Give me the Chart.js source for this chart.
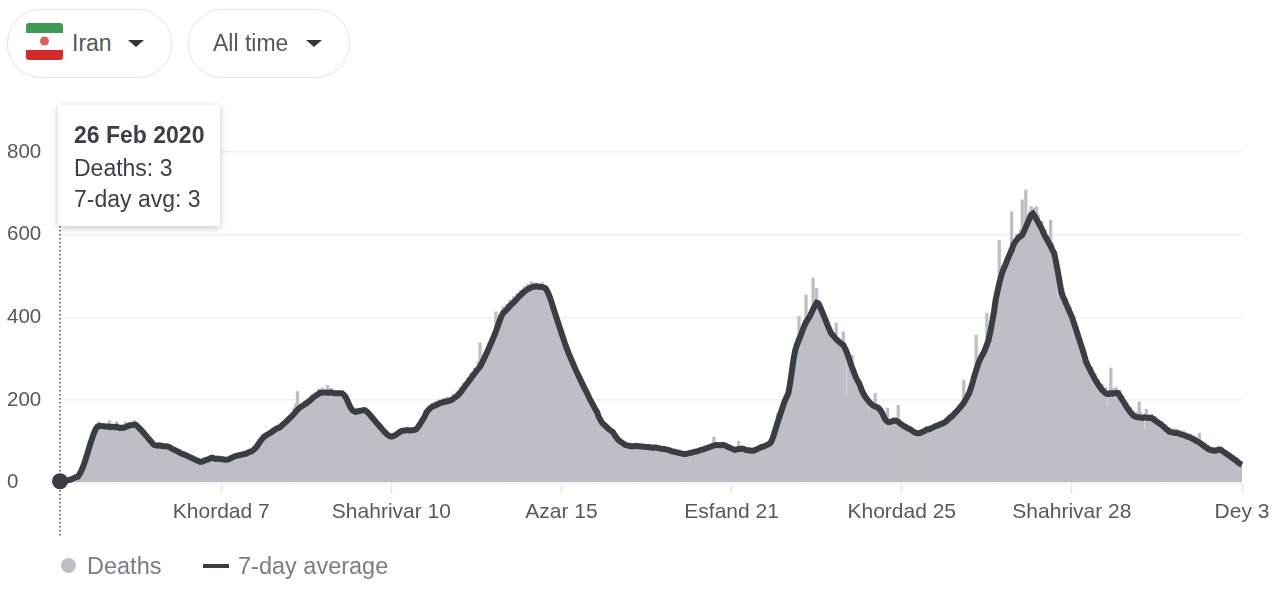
<!DOCTYPE html>
<html>
<head>
<meta charset="utf-8">
<title>Iran deaths</title>
<script src="https://cdn.jsdelivr.net/npm/chart.js@4"></script>
<style>
  html, body { margin: 0; padding: 0; background: #fff; overflow: hidden; }
  body { width: 1274px; height: 596px; position: relative; font-family: "Liberation Sans", Arial, sans-serif; }
  canvas { position: absolute; left: 0; top: 0; }
  .pill { position: absolute; top: 9px; height: 67px; border: 1.5px solid #e2e3e5; border-radius: 34px; box-sizing: content-box; background: #fff; }
  .pill span { position: absolute; top: 20px; font-size: 23px; line-height: 27px; color: #55585c; white-space: nowrap; }
  .caret { position: absolute; top: 30px; width: 0; height: 0; border-left: 8px solid transparent; border-right: 8px solid transparent; border-top: 7px solid #33363a; }
  #flag { position: absolute; left: 18px; top: 13px; }
  #tip { position: absolute; left: 58px; top: 105px; width: 162px; height: 121px; background: #fff; box-shadow: 0 2px 7px rgba(0,0,0,.22); color: #3c3f43; font-size: 23px; }
  #tip div { position: absolute; left: 16px; white-space: nowrap; line-height: 26px; }
  .leg { position: absolute; top: 552px; font-size: 23.5px; line-height: 28px; color: #7a7d81; white-space: nowrap; }
  #dot { position: absolute; left: 61px; top: 558px; width: 15px; height: 15px; border-radius: 50%; background: #bcbfc5; }
  #dash { position: absolute; left: 203px; top: 564px; width: 26px; height: 4px; background: #3a3d42; }
</style>
</head>
<body>
<canvas id="chart" width="1274" height="596"></canvas>

<div class="pill" style="left:7px;width:163px">
  <svg id="flag" width="37" height="37" viewBox="0 0 37 37">
    <rect width="37" height="37" rx="3" fill="#fff"/>
    <path d="M0 10V3a3 3 0 0 1 3-3h31a3 3 0 0 1 3 3v7z" fill="#3f9a55"/>
    <path d="M0 27v7a3 3 0 0 0 3 3h31a3 3 0 0 0 3-3v-7z" fill="#d32a2a"/>
    <circle cx="18.5" cy="18" r="4.5" fill="#d9605f"/>
  </svg>
  <span style="left:64px">Iran</span>
  <i class="caret" style="left:120px"></i>
</div>
<div class="pill" style="left:188px;width:160px">
  <span style="left:24px">All time</span>
  <i class="caret" style="left:117px"></i>
</div>

<div id="tip">
  <div style="top:17px;font-weight:bold">26 Feb 2020</div>
  <div style="top:50px">Deaths: 3</div>
  <div style="top:81px">7-day avg: 3</div>
</div>

<i id="dot"></i><div class="leg" style="left:87px">Deaths</div>
<i id="dash"></i><div class="leg" style="left:238px">7-day average</div>

<script>
// tick labels, days counted from 26 Feb 2020
const tickDays = [91, 187, 283, 379, 475, 571, 667];
const tickLabels = ["Khordad 7", "Shahrivar 10", "Azar 15", "Esfand 21", "Khordad 25", "Shahrivar 28", "Dey 3"];
const yTicks = [0, 200, 400, 600, 800];

// daily deaths, 10 per row
const deaths = [
  3,4,3,5,6,7,8,10,12,15,
  16,24,32,43,54,70,84,96,112,125,
  135,142,147,139,143,136,141,138,149,133,
  138,129,147,136,134,138,130,146,134,141,
  143,136,150,141,138,131,129,124,117,113,
  108,103,98,92,93,90,94,87,91,89,
  92,86,88,84,82,76,79,73,74,68,
  71,64,67,60,63,56,59,52,55,48,
  53,51,59,52,60,58,63,57,60,56,
  60,54,59,52,58,54,62,57,66,63,
  69,64,71,66,74,68,76,72,79,81,
  88,91,99,105,112,108,119,114,124,119,
  130,125,136,129,142,134,147,143,155,150,
  164,158,180,190,220,177,191,183,197,189,
  204,193,211,203,217,208,226,214,229,215,
  224,235,220,228,212,221,213,222,209,218,
  207,213,196,188,170,162,178,168,180,170,
  179,172,182,169,174,160,163,150,155,140,
  144,130,133,120,125,112,117,108,117,112,
  123,118,129,122,131,124,134,123,131,125,
  133,128,144,138,156,151,175,168,184,178,
  192,182,196,186,200,190,203,192,206,194,
  206,196,214,203,220,208,231,222,242,234,
  252,244,266,256,277,266,292,338,298,310,
  318,328,338,345,358,365,413,372,404,398,
  425,408,432,420,442,428,450,436,458,446,
  466,452,474,462,480,468,486,472,484,470,
  482,468,484,470,478,458,462,436,434,408,
  410,380,384,352,358,328,334,304,312,284,
  292,264,272,246,254,228,236,212,218,196,
  200,178,184,164,166,145,150,134,142,126,
  134,118,128,110,114,98,104,92,100,88,
  93,86,94,85,92,84,93,85,92,84,
  91,83,92,82,91,81,90,81,88,79,
  86,78,85,76,84,73,80,71,78,69,
  76,67,74,66,75,68,77,70,79,72,
  81,75,84,77,88,80,90,83,92,110,
  96,88,95,87,96,87,94,83,89,79,
  85,76,85,100,86,79,86,76,83,75,
  82,74,83,77,87,81,91,84,94,88,
  98,92,112,128,140,168,165,180,193,205,
  215,226,252,285,318,335,352,402,365,376,
  392,454,402,412,418,495,436,470,440,416,
  422,398,400,376,380,354,364,345,386,338,
  346,328,365,316,204,296,298,308,274,248,
  254,232,236,210,216,196,168,186,196,180,
  216,174,188,170,176,150,127,180,152,140,
  156,143,156,187,150,132,144,128,139,122,
  135,118,129,114,126,112,128,118,132,122,
  135,124,138,128,142,132,147,134,150,138,
  156,146,165,152,172,160,180,170,190,180,
  248,192,218,208,238,232,266,357,294,286,
  316,302,332,410,354,352,400,400,455,448,
  587,480,525,508,545,528,568,655,586,564,
  602,578,612,684,622,708,642,625,668,636,
  664,668,648,610,632,590,612,575,598,635,
  580,545,552,447,505,450,470,425,445,405,
  425,385,402,360,378,335,350,308,322,278,
  296,262,280,245,264,230,250,218,238,208,
  230,183,225,277,228,202,230,205,224,192,
  208,178,194,165,182,155,172,150,170,195,
  168,146,127,177,166,148,166,143,160,138,
  152,132,148,125,140,118,133,112,130,112,
  130,110,127,107,125,104,120,101,118,97,
  113,92,109,119,102,82,96,76,90,71,
  86,70,86,70,88,71,84,66,78,60,
  72,54,66,48,60,42,52,38
];

// 7-day average, same days
const average = [
  3,4,4,5,5,6,7,9,11,13,
  14,20,28,38,50,64,78,92,105,118,
  128,135,137,137,136,136,135,136,134,135,
  135,134,135,133,132,133,132,134,136,138,
  139,139,140,139,135,130,126,121,116,111,
  106,101,96,91,90,89,90,89,88,88,
  88,87,85,82,80,78,76,74,71,69,
  68,66,64,62,60,58,56,54,52,50,
  50,52,54,55,57,59,60,58,57,58,
  57,56,56,55,55,56,58,60,62,64,
  65,66,67,68,69,70,72,74,75,78,
  82,87,93,100,105,110,113,116,118,121,
  124,127,130,132,133,137,141,145,149,153,
  157,161,166,171,176,180,183,186,189,192,
  195,198,202,206,209,212,215,217,217,218,
  218,217,217,218,217,216,216,216,216,216,
  213,208,200,190,181,175,172,171,172,173,
  174,175,175,172,168,163,158,153,148,143,
  138,133,128,123,119,115,112,111,112,114,
  117,120,123,125,125,126,127,126,126,127,
  127,129,134,140,147,154,162,171,176,180,
  183,185,187,189,191,193,194,195,196,197,
  198,200,203,206,209,213,218,224,230,236,
  241,247,253,259,264,270,275,280,288,297,
  306,315,325,335,345,355,366,378,390,402,
  410,414,418,423,428,432,436,440,445,450,
  454,458,462,465,468,470,472,474,474,475,
  474,473,473,472,470,463,453,441,428,414,
  401,388,375,362,349,336,324,313,303,293,
  283,273,264,255,246,237,228,220,211,202,
  194,186,178,171,159,151,144,140,136,132,
  128,125,122,115,109,103,100,97,94,91,
  90,89,88,88,88,89,88,88,87,87,
  86,86,86,85,85,84,85,84,83,82,
  81,81,80,79,78,76,75,74,73,72,
  71,70,69,69,70,71,72,73,74,75,
  76,78,79,80,82,83,85,86,88,89,
  91,91,90,90,91,90,88,86,84,82,
  80,79,80,81,81,82,81,79,78,78,
  77,77,78,80,82,84,86,87,89,91,
  93,96,105,118,132,146,159,172,185,197,
  207,216,240,270,300,322,335,345,356,368,
  379,388,395,401,410,420,428,435,433,424,
  414,404,393,382,372,362,357,352,347,343,
  339,336,333,325,315,303,290,278,267,256,
  247,240,228,218,210,204,198,193,189,186,
  184,182,180,175,168,158,151,147,146,147,
  149,150,149,147,143,140,137,135,132,130,
  128,125,122,120,119,119,121,123,125,128,
  128,130,132,134,136,138,139,141,143,145,
  148,152,156,159,163,168,172,177,182,187,
  193,200,208,216,228,242,258,272,285,296,
  305,312,322,333,345,365,388,412,442,462,
  482,498,512,522,532,543,553,562,575,582,
  588,593,596,599,608,618,628,638,648,651,
  645,637,630,622,614,604,595,588,580,572,
  563,555,535,512,488,462,450,440,430,420,
  410,401,388,375,362,348,335,322,308,292,
  283,275,266,258,250,243,236,230,224,220,
  216,214,214,216,215,216,217,216,210,203,
  196,189,182,176,170,165,161,159,158,158,
  157,156,158,157,156,156,156,153,150,147,
  144,141,138,134,130,127,123,122,121,120,
  120,119,117,116,115,113,111,110,108,106,
  104,101,99,96,93,90,87,84,81,79,
  78,77,77,78,79,79,76,73,70,67,
  64,61,58,55,52,48,45,43
];

const days = deaths.map((_, i) => i);

// dotted hover line through the first day
const hoverLine = {
  id: "hoverLine",
  beforeDatasetsDraw(chart) {
    const x = chart.scales.x.getPixelForValue(0);
    const ctx = chart.ctx;
    ctx.save();
    ctx.strokeStyle = "#4a4d52";
    ctx.lineWidth = 1.5;
    ctx.setLineDash([1.5, 2.5]);
    ctx.beginPath();
    ctx.moveTo(x, 226);
    ctx.lineTo(x, 538);
    ctx.stroke();
    ctx.restore();
  },
};

new Chart(document.getElementById("chart"), {
  type: "bar",
  plugins: [hoverLine],
  data: {
    labels: days,
    datasets: [
      {
        type: "line",
        label: "7-day average",
        data: average,
        borderColor: "#3a3d42",
        borderWidth: 6,
        tension: 0,
        clip: false,
        pointBackgroundColor: "#3a3d42",
        pointBorderWidth: 0,
        pointRadius: (c) => (c.dataIndex === 0 ? 8 : 0),
        order: 0,
      },
      {
        label: "Deaths",
        data: deaths,
        backgroundColor: "#bcbfc5",
        borderWidth: 0,
        barThickness: 2.6,
        order: 1,
      },
    ],
  },
  options: {
    responsive: false,
    animation: false,
    layout: { padding: { left: 7, right: 32, top: 152, bottom: 0 } },
    plugins: {
      legend: { display: false },
      tooltip: { enabled: false },
    },
    scales: {
      x: {
        type: "linear",
        min: 0,
        max: 667,
        offset: false,
        border: { display: false },
        grid: { offset: false, drawOnChartArea: false, tickLength: 11, tickColor: "#e6e7e9", tickWidth: 1.5 },
        afterBuildTicks: (scale) => {
          scale.ticks = tickDays.map((value) => ({ value }));
        },
        afterFit: (scale) => {
          scale.height = 113.5;
          scale.paddingRight = 0;
          scale.paddingLeft = 0;
        },
        ticks: {
          autoSkip: false,
          maxRotation: 0,
          padding: 6,
          color: "#55585c",
          font: { family: "Liberation Sans", size: 21 },
          callback: (v) => tickLabels[tickDays.indexOf(v)],
        },
      },
      y: {
        min: 0,
        max: 800,
        border: { display: false },
        grid: { color: "#eff0f2", lineWidth: 1.5, drawTicks: false },
        afterBuildTicks: (scale) => {
          scale.ticks = yTicks.map((value) => ({ value }));
        },
        afterFit: (scale) => {
          scale.width = 53;
        },
        ticks: {
          crossAlign: "far",
          color: "#55585c",
          font: { family: "Liberation Sans", size: 20.5 },
        },
      },
    },
  },
});
</script>
</body>
</html>
